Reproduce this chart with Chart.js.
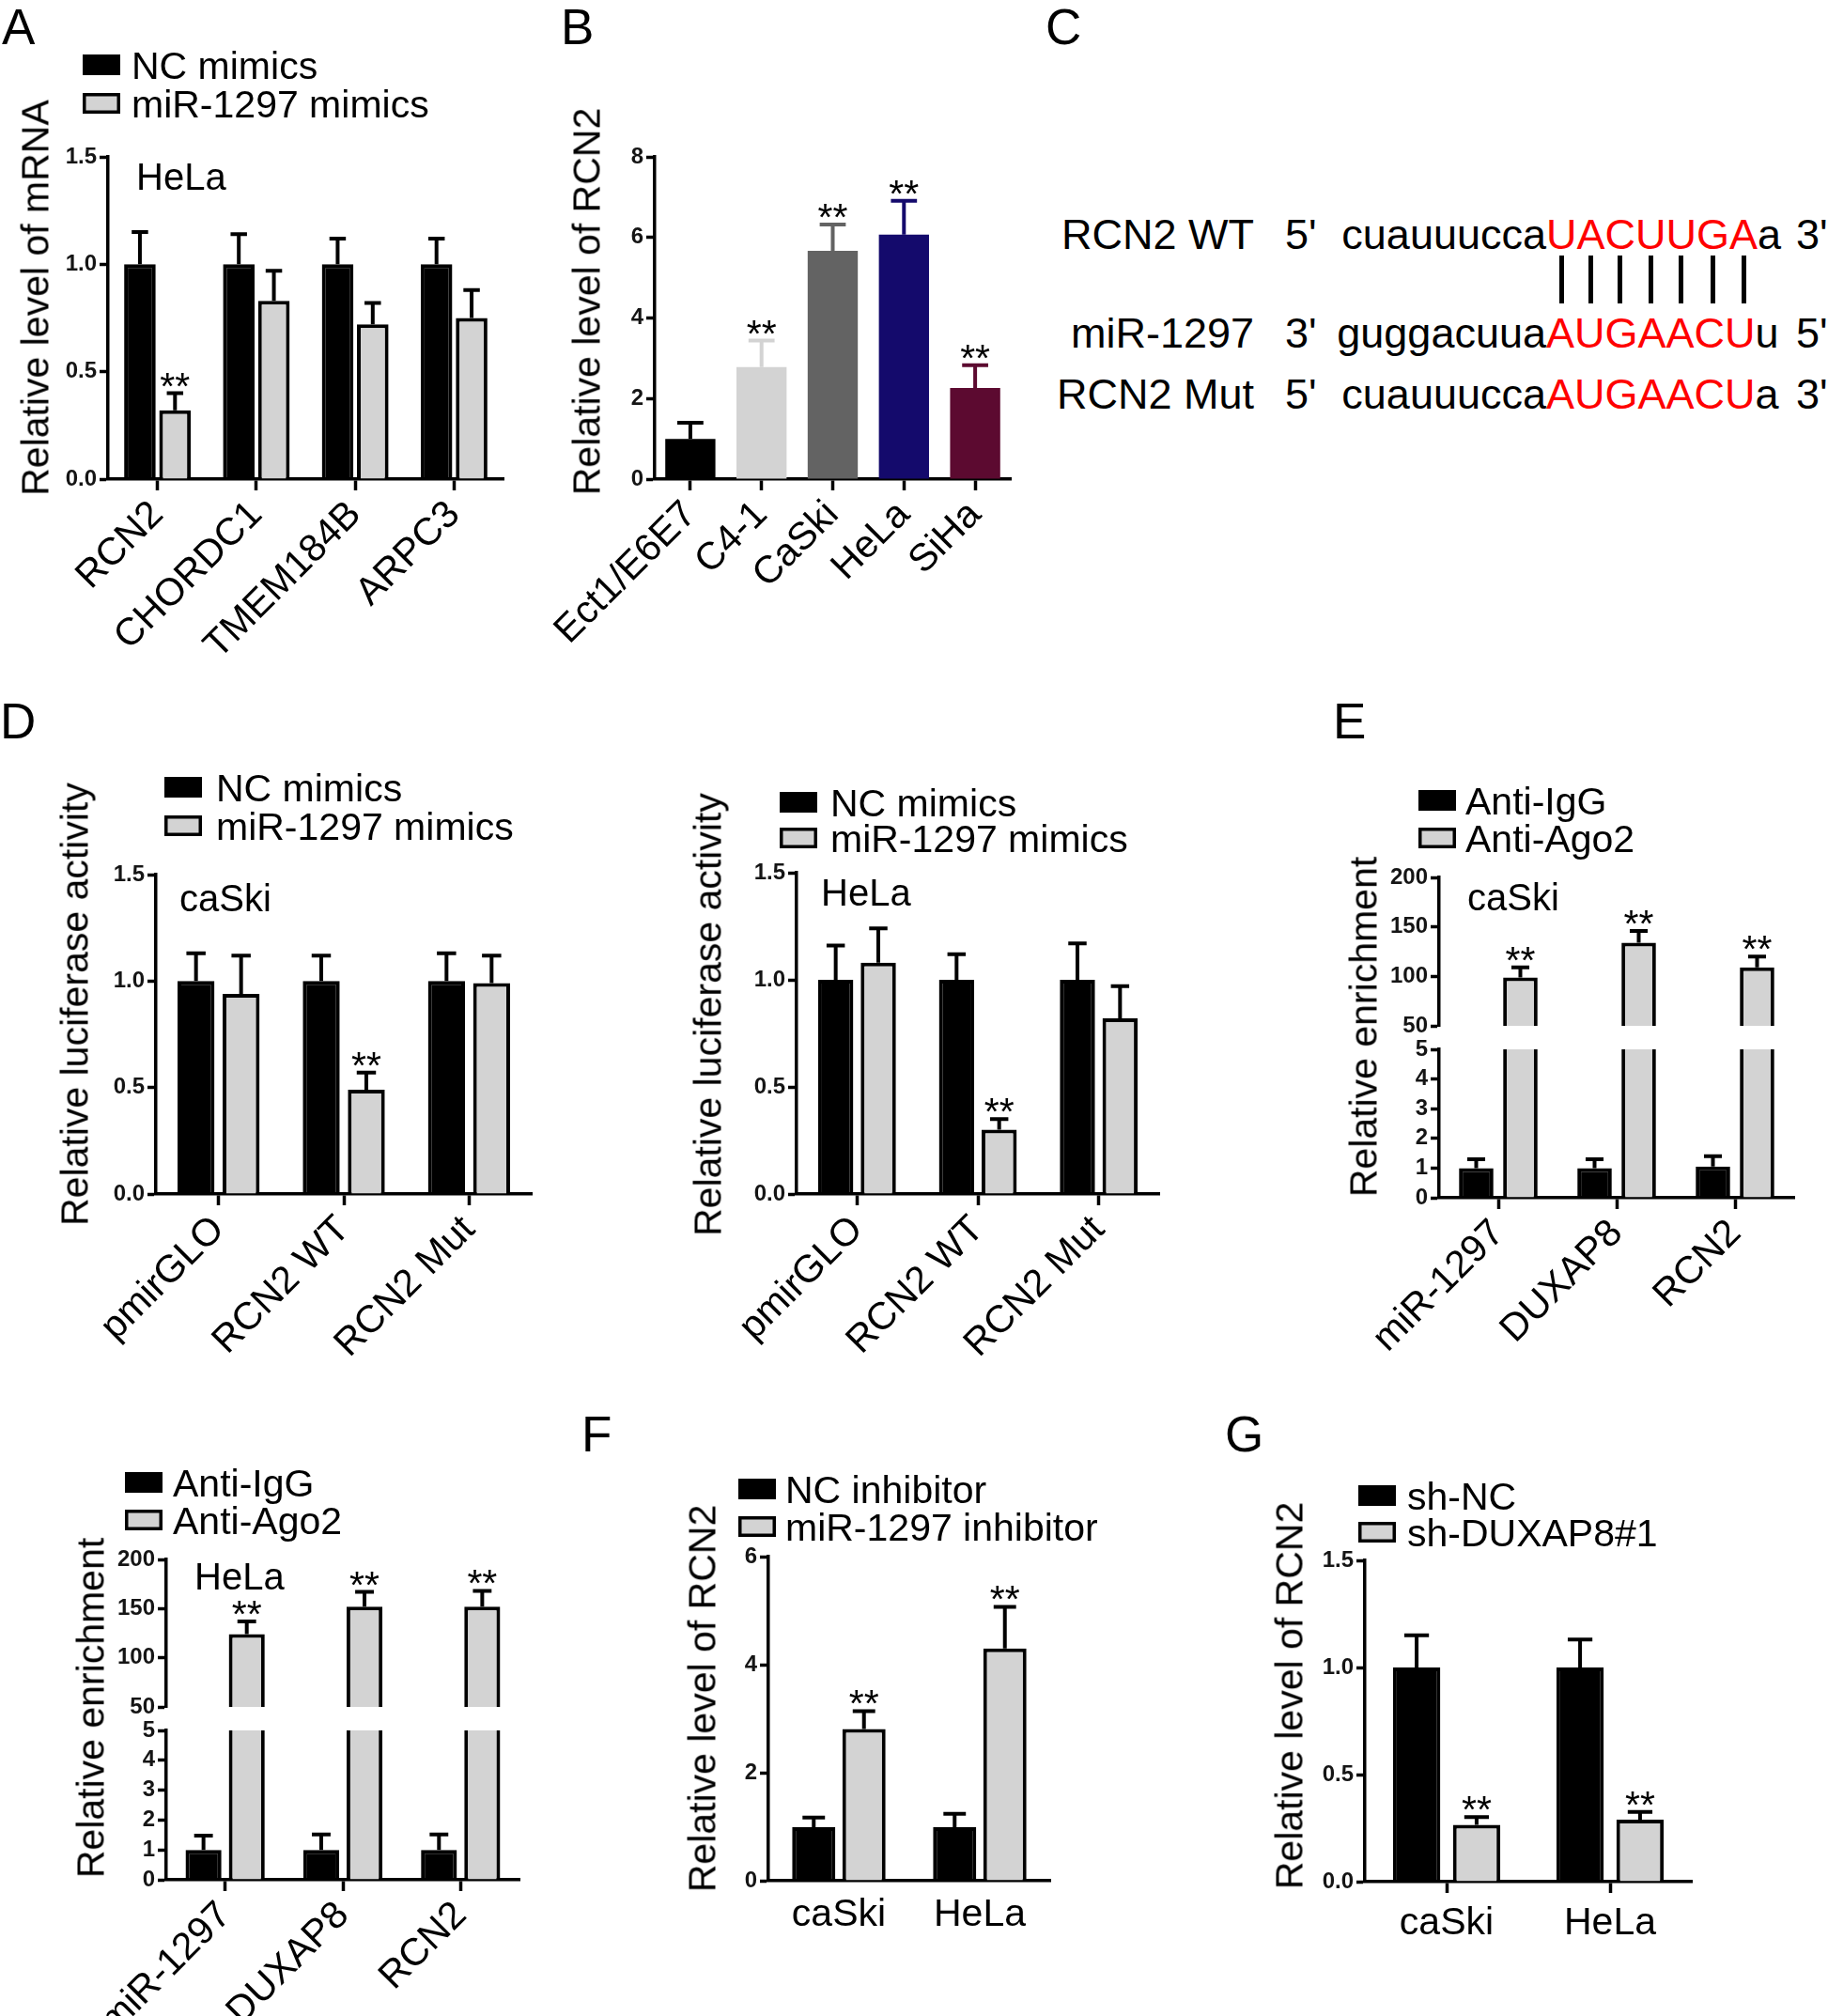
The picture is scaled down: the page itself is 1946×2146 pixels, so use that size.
<!DOCTYPE html>
<html>
<head>
<meta charset="utf-8">
<script src="https://cdn.jsdelivr.net/npm/chart.js@4.4.1/dist/chart.umd.min.js"></script>
<style>
html, body { margin: 0; background: #fff; }
#fig { position: relative; width: 1946px; height: 2146px; overflow: hidden; font-family: "Liberation Sans", Arial, sans-serif; color: #000; }
.t { position: absolute; white-space: nowrap; line-height: 1; }
.yt { position: absolute; white-space: nowrap; line-height: 1; font-size: 41px; transform: translate(-50%, -50%) rotate(-90deg); }
.pair { position: absolute; width: 5px; background: #000; }
canvas { position: absolute; }
</style>
</head>
<body>
<div id="fig"></div>
<script>
// ---- data ----
const GREY = '#d3d3d3';

// A: HeLa, relative mRNA
const catsA = ['RCN2', 'CHORDC1', 'TMEM184B', 'ARPC3'];
const ncA = [1.0, 1.0, 1.0, 1.0];
const ncAErr = [0.15, 0.14, 0.12, 0.12];
const mimA = [0.32, 0.83, 0.72, 0.75];
const mimAErr = [0.08, 0.14, 0.10, 0.13];
const starsA = [1, 0, 0, 0];

// B: cell lines
const catsB = ['Ect1/E6E7', 'C4-1', 'CaSki', 'HeLa', 'SiHa'];
const valsB = [1.0, 2.78, 5.67, 6.07, 2.26];
const errB = [0.40, 0.66, 0.65, 0.84, 0.57];
const starsB = [0, 1, 1, 1, 1];
const colorsB = ['#000000', '#d3d3d3', '#636363', '#140a6c', '#5c0a30'];

// D: luciferase
const catsD = ['pmirGLO', 'RCN2 WT', 'RCN2 Mut'];
const ncDc = [1.0, 1.0, 1.0];
const ncDcErr = [0.13, 0.12, 0.13];
const mimDc = [0.94, 0.49, 0.99];
const mimDcErr = [0.18, 0.08, 0.13];
const ncDh = [1.0, 1.0, 1.0];
const ncDhErr = [0.16, 0.12, 0.17];
const mimDh = [1.08, 0.30, 0.82];
const mimDhErr = [0.16, 0.05, 0.15];
const starsD = [0, 1, 0];

// E: RIP
const catsE = ['miR-1297', 'DUXAP8', 'RCN2'];
const iggEc = [1.0, 1.0, 1.05];
const iggEcErr = [0.30, 0.30, 0.35];
const agoEc = [99, 134, 109];
const agoEcErr = [10, 12, 11];
const iggEh = [1.0, 1.0, 1.0];
const iggEhErr = [0.48, 0.52, 0.52];
const agoEh = [124, 152, 152];
const agoEhErr = [13, 15, 16];
const starsE = [1, 1, 1];

// F / G
const catsFG = ['caSki', 'HeLa'];
const ncF = [0.99, 0.99];
const ncFErr = [0.18, 0.25];
const inhF = [2.81, 4.30];
const inhFErr = [0.33, 0.77];
const shNC = [1.0, 1.0];
const shNCErr = [0.15, 0.13];
const shDux = [0.265, 0.29];
const shDuxErr = [0.036, 0.036];
const starsFG = [1, 1];

// C: sequences
const seqRows = [
  { label: 'RCN2 WT', p1: "5'", pre: 'cuauuucca', hit: 'UACUUGA', post: 'a', p2: "3'", base: 265 },
  { label: 'miR-1297', p1: "3'", pre: 'guggacuua', hit: 'AUGAACU', post: 'u', p2: "5'", base: 370 },
  { label: 'RCN2 Mut', p1: "5'", pre: 'cuauuucca', hit: 'AUGAACU', post: 'a', p2: "3'", base: 435 }
];

// ---- helpers ----
const fig = document.getElementById('fig');
const FONT = '"Liberation Sans", Arial, sans-serif';
Chart.defaults.font.family = FONT;
Chart.defaults.color = '#000';

function addText(str, x, base, size, align, color) {
  const d = document.createElement('div');
  d.className = 't';
  d.textContent = str;
  d.style.fontSize = size + 'px';
  d.style.top = (base - 0.8465 * size) + 'px';
  if (align === 'right') d.style.right = (1946 - x) + 'px';
  else d.style.left = x + 'px';
  if (color) d.style.color = color;
  fig.appendChild(d);
  return d;
}

function addYTitle(str, cx, cy) {
  const d = document.createElement('div');
  d.className = 'yt';
  d.textContent = str;
  d.style.left = cx + 'px';
  d.style.top = cy + 'px';
  fig.appendChild(d);
}

// error bars, asterisks, legend and inset label
const extras = {
  id: 'extras',
  afterDatasetsDraw(chart, args, o) {
    const ctx = chart.ctx, ys = chart.scales.y;
    const ox = o.box.x, oy = o.box.y;
    ctx.save();
    chart.data.datasets.forEach((ds, i) => {
      const err = (o.errs || [])[i] || [];
      const st = (o.stars || [])[i] || [];
      chart.getDatasetMeta(i).data.forEach((bar, j) => {
        const v = ds.data[j];
        if (v < ys.min || v > ys.max || err[j] == null) return;
        const top = ys.getPixelForValue(v + err[j]);
        const half = bar.width * 0.26;
        ctx.strokeStyle = Array.isArray(ds.borderColor) ? ds.borderColor[j] : ds.borderColor;
        ctx.lineWidth = 4;
        ctx.beginPath();
        ctx.moveTo(bar.x, bar.y);
        ctx.lineTo(bar.x, top);
        ctx.moveTo(bar.x - half, top);
        ctx.lineTo(bar.x + half, top);
        ctx.stroke();
        if (st[j]) {
          ctx.fillStyle = '#000';
          ctx.font = '41px ' + FONT;
          ctx.textAlign = 'center';
          ctx.textBaseline = 'alphabetic';
          ctx.fillText('**', bar.x, top + 6);
        }
      });
    });
    if (o.legend) {
      const L = o.legend;
      chart.data.datasets.forEach((ds, i) => {
        const cy = L.rows[i] - oy, bx = L.x - ox;
        ctx.fillStyle = ds.backgroundColor;
        ctx.fillRect(bx, cy - 11, 40, 22);
        ctx.lineWidth = 3.5;
        ctx.strokeStyle = '#000';
        ctx.strokeRect(bx + 1.75, cy - 9.25, 36.5, 18.5);
        ctx.fillStyle = '#000';
        ctx.font = '41px ' + FONT;
        ctx.textAlign = 'left';
        ctx.textBaseline = 'alphabetic';
        ctx.fillText(ds.label, L.tx - ox, cy + 14.7);
      });
    }
    if (o.note) {
      ctx.fillStyle = '#000';
      ctx.font = '40px ' + FONT;
      ctx.textAlign = 'left';
      ctx.textBaseline = 'alphabetic';
      ctx.fillText(o.note.text, o.note.x - ox, o.note.base - oy);
    }
    ctx.restore();
  }
};

function barChart(p) {
  const c = document.createElement('canvas');
  c.width = p.box.w;
  c.height = p.box.h;
  c.style.left = p.box.x + 'px';
  c.style.top = p.box.y + 'px';
  fig.appendChild(c);
  const yW = p.plot.l - p.box.x;
  const xH = p.hideX ? 0 : p.box.y + p.box.h - p.plot.b;
  const line = 3.5;
  return new Chart(c, {
    type: 'bar',
    data: {
      labels: p.labels,
      datasets: p.sets.map(s => ({
        label: s.label,
        data: s.data,
        backgroundColor: s.fill,
        borderColor: s.line || '#000',
        borderWidth: s.bw == null ? 4 : s.bw,
        borderSkipped: 'start',
        categoryPercentage: p.cat,
        barPercentage: p.bar,
        clip: 0
      }))
    },
    options: {
      responsive: false,
      animation: false,
      devicePixelRatio: 1,
      layout: {
        autoPadding: false,
        padding: {
          left: 0,
          top: p.plot.t - p.box.y,
          right: p.box.x + p.box.w - p.plot.r,
          bottom: p.hideX ? p.box.y + p.box.h - p.plot.b : 0
        }
      },
      plugins: {
        legend: { display: false },
        tooltip: { enabled: false },
        extras: { box: p.box, errs: p.sets.map(s => s.err), stars: p.sets.map(s => s.stars), legend: p.legend, note: p.note }
      },
      scales: {
        x: {
          display: !p.hideX,
          z: 1,
          offset: true,
          grid: { offset: false, drawOnChartArea: false, drawTicks: p.xTicks !== false, tickLength: 12, tickWidth: line, tickColor: '#000' },
          border: { width: line, color: '#000' },
          ticks: { autoSkip: false, minRotation: p.rot || 0, maxRotation: p.rot || 0, padding: p.xPad == null ? 2 : p.xPad, color: '#000', font: { size: 41 } },
          afterFit: s => { s.height = xH; s.paddingLeft = 0; s.paddingRight = 0; }
        },
        y: {
          min: p.y.min,
          max: p.y.max,
          z: 1,
          grid: { drawOnChartArea: false, tickLength: 9, tickWidth: line, tickColor: '#000' },
          border: { width: line, color: '#000' },
          ticks: { stepSize: p.y.step, autoSkip: false, padding: 3, color: '#151515', font: { size: 24, weight: 'bold' },
                   callback: v => p.y.dec ? v.toFixed(p.y.dec) : String(v) },
          afterFit: s => { s.width = yW; s.paddingTop = 0; s.paddingBottom = 0; }
        }
      }
    },
    plugins: [extras]
  });
}

// ---- panel letters ----
addText('A', 2, 47, 53);
addText('B', 597, 47, 53);
addText('C', 1113, 47, 53);
addText('D', 0, 786, 53);
addText('E', 1419, 786, 53);
addText('F', 619, 1545, 53);
addText('G', 1304, 1545, 53);

// ---- A ----
barChart({
  box: { x: 0, y: 40, w: 575, h: 690 }, plot: { l: 115, t: 167, r: 536, b: 510 },
  labels: catsA, rot: 45, cat: 0.71, bar: 0.9,
  y: { min: 0, max: 1.5, step: 0.5, dec: 1 },
  sets: [
    { label: 'NC mimics', data: ncA, err: ncAErr, fill: '#000' },
    { label: 'miR-1297 mimics', data: mimA, err: mimAErr, stars: starsA, fill: GREY }
  ],
  legend: { x: 88, tx: 140, rows: [69, 110] },
  note: { text: 'HeLa', x: 145, base: 202 }
});
addYTitle('Relative level of mRNA', 38, 317);

// ---- B ----
barChart({
  box: { x: 580, y: 40, w: 520, h: 690 }, plot: { l: 697, t: 167, r: 1076, b: 510 },
  labels: catsB, rot: 45, cat: 0.8, bar: 0.88,
  y: { min: 0, max: 8, step: 2 },
  sets: [{ label: 'RCN2', data: valsB, err: errB, stars: starsB, fill: colorsB, line: colorsB, bw: 0 }]
});
addYTitle('Relative level of RCN2', 625, 321);

// ---- C ----
seqRows.forEach((r, k) => {
  addText(r.label, 1335, r.base, 45, 'right');
  addText(r.p1, 1368, r.base, 45);
  addText(r.pre, 1646, r.base, 45, 'right');
  const d = addText('', 1646, r.base, 45);
  for (const ch of r.hit) {
    const s = document.createElement('span');
    s.textContent = ch;
    s.style.color = '#f00';
    if (k === 0) s.className = 'hitc';
    d.appendChild(s);
  }
  d.appendChild(document.createTextNode(r.post));
  addText(r.p2, 1912, r.base, 45);
});
document.querySelectorAll('.hitc').forEach(s => {
  const rc = s.getBoundingClientRect(), fr = fig.getBoundingClientRect();
  const l = document.createElement('div');
  l.className = 'pair';
  l.style.left = (rc.left - fr.left + rc.width / 2 - 2.5) + 'px';
  l.style.top = '272px';
  l.style.height = '51px';
  fig.appendChild(l);
});

// ---- D ----
barChart({
  box: { x: 0, y: 790, w: 600, h: 700 }, plot: { l: 166, t: 931, r: 566, b: 1271 },
  labels: catsD, rot: 45, cat: 0.72, bar: 0.82,
  y: { min: 0, max: 1.5, step: 0.5, dec: 1 },
  sets: [
    { label: 'NC mimics', data: ncDc, err: ncDcErr, fill: '#000' },
    { label: 'miR-1297 mimics', data: mimDc, err: mimDcErr, stars: starsD, fill: GREY }
  ],
  legend: { x: 175, tx: 230, rows: [838, 879] },
  note: { text: 'caSki', x: 191, base: 970 }
});
addYTitle('Relative luciferase activity', 80, 1069);

barChart({
  box: { x: 690, y: 790, w: 570, h: 700 }, plot: { l: 848, t: 929, r: 1234, b: 1271 },
  labels: catsD, rot: 45, cat: 0.705, bar: 0.826,
  y: { min: 0, max: 1.5, step: 0.5, dec: 1 },
  sets: [
    { label: 'NC mimics', data: ncDh, err: ncDhErr, fill: '#000' },
    { label: 'miR-1297 mimics', data: mimDh, err: mimDhErr, stars: starsD, fill: GREY }
  ],
  legend: { x: 830, tx: 884, rows: [854, 892] },
  note: { text: 'HeLa', x: 874, base: 964 }
});
addYTitle('Relative luciferase activity', 754, 1080);

// ---- E (caSki), broken axis: upper and lower parts ----
const setsEc = [
  { label: 'Anti-IgG', data: iggEc, err: iggEcErr, fill: '#000' },
  { label: 'Anti-Ago2', data: agoEc, err: agoEcErr, stars: starsE, fill: GREY }
];
barChart({
  box: { x: 1400, y: 790, w: 546, h: 320 }, plot: { l: 1532, t: 934, r: 1910, b: 1092 },
  labels: catsE, hideX: true, cat: 0.746, bar: 0.78,
  y: { min: 50, max: 200, step: 50 }, sets: setsEc,
  legend: { x: 1510, tx: 1560, rows: [852, 892] },
  note: { text: 'caSki', x: 1562, base: 969 }
});
barChart({
  box: { x: 1400, y: 1100, w: 546, h: 390 }, plot: { l: 1532, t: 1117, r: 1910, b: 1275 },
  labels: catsE, rot: 45, cat: 0.746, bar: 0.78,
  y: { min: 0, max: 5, step: 1 }, sets: setsEc
});
addYTitle('Relative enrichment', 1452, 1093);

// ---- E (HeLa) ----
const setsEh = [
  { label: 'Anti-IgG', data: iggEh, err: iggEhErr, fill: '#000' },
  { label: 'Anti-Ago2', data: agoEh, err: agoEhErr, stars: starsE, fill: GREY }
];
barChart({
  box: { x: 0, y: 1540, w: 600, h: 292 }, plot: { l: 177, t: 1660, r: 553, b: 1817 },
  labels: catsE, hideX: true, cat: 0.735, bar: 0.83,
  y: { min: 50, max: 200, step: 50 }, sets: setsEh,
  legend: { x: 133, tx: 184, rows: [1578, 1618] },
  note: { text: 'HeLa', x: 207, base: 1692 }
});
barChart({
  box: { x: 0, y: 1822, w: 600, h: 324 }, plot: { l: 177, t: 1842, r: 553, b: 2001 },
  labels: catsE, rot: 45, cat: 0.735, bar: 0.83,
  y: { min: 0, max: 5, step: 1 }, sets: setsEh
});
addYTitle('Relative enrichment', 97, 1818);

// ---- F ----
barChart({
  box: { x: 600, y: 1540, w: 620, h: 606 }, plot: { l: 818, t: 1657, r: 1118, b: 2002 },
  labels: catsFG, xTicks: false, xPad: 12, cat: 0.713, bar: 0.86,
  y: { min: 0, max: 6, step: 2 },
  sets: [
    { label: 'NC inhibitor', data: ncF, err: ncFErr, fill: '#000' },
    { label: 'miR-1297 inhibitor', data: inhF, err: inhFErr, stars: starsFG, fill: GREY }
  ],
  legend: { x: 786, tx: 836, rows: [1585, 1625] }
});
addYTitle('Relative level of RCN2', 748, 1808);

// ---- G ----
barChart({
  box: { x: 1290, y: 1540, w: 656, h: 606 }, plot: { l: 1453, t: 1661, r: 1801, b: 2003 },
  labels: catsFG, xPad: 8, cat: 0.734, bar: 0.79,
  y: { min: 0, max: 1.5, step: 0.5, dec: 1 },
  sets: [
    { label: 'sh-NC', data: shNC, err: shNCErr, fill: '#000' },
    { label: 'sh-DUXAP8#1', data: shDux, err: shDuxErr, stars: starsFG, fill: GREY }
  ],
  legend: { x: 1446, tx: 1498, rows: [1592, 1631] }
});
addYTitle('Relative level of RCN2', 1373, 1805);
</script>
</body>
</html>
